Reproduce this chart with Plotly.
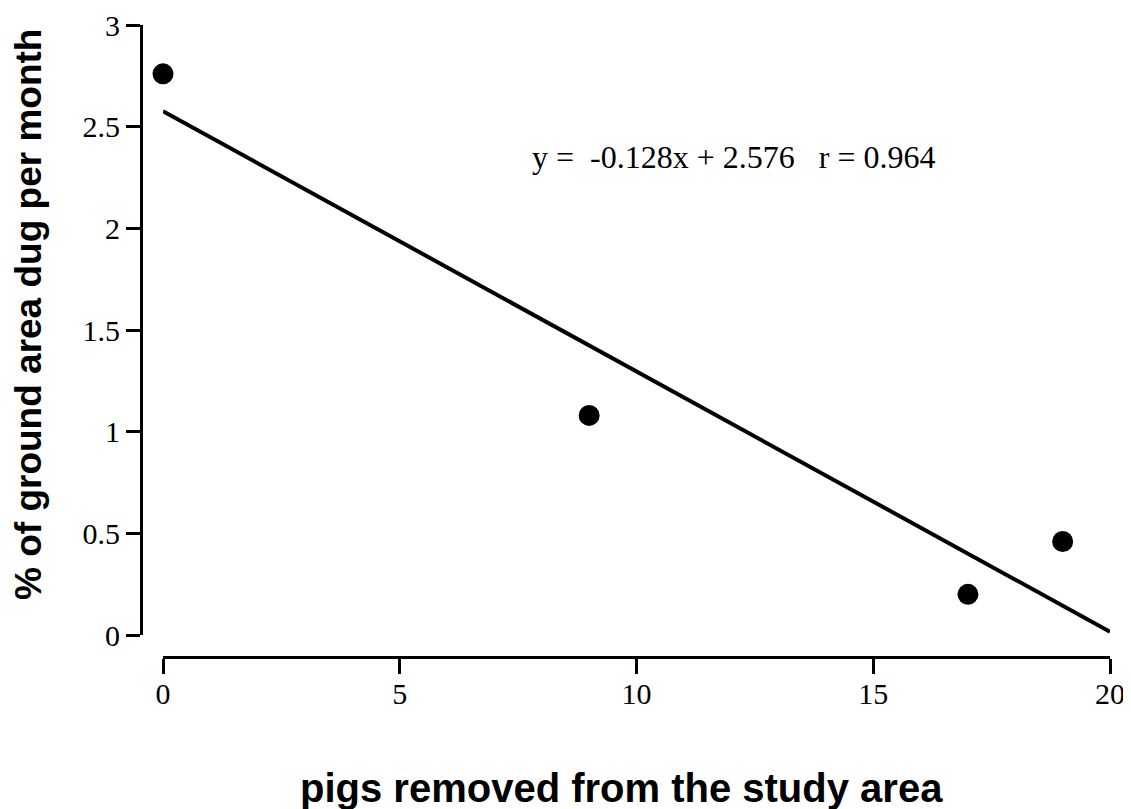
import plotly.graph_objects as go

# Data
pigs_removed = [0, 9, 17, 19]
pct_dug = [2.76, 1.08, 0.20, 0.46]
slope = -0.128
intercept = 2.576
fit_x = [0, 20]
fit_y = [slope * v + intercept for v in fit_x]
x_ticks = [0, 5, 10, 15, 20]
y_ticks = [0, 0.5, 1, 1.5, 2, 2.5, 3]
y_tick_text = ["0", "0.5", "1", "1.5", "2", "2.5", "3"]
equation_text = "y =\u00a0\u00a0-0.128x + 2.576\u00a0\u00a0\u00a0r = 0.964"
x_title = "pigs removed from the study area"
y_title = "% of ground area dug per month"

# page body has an 8px margin; compensate
OFF = 8
W, H = 1131 - OFF, 809 - OFF
ml, mr, mt = 92, 21, 25 - OFF
x_axis_y = 657 - OFF
mb = H - x_axis_y
pw = W - ml - mr
ph = H - mt - mb

x_plot_left = 163 - OFF
y_axis_x = 141 - OFF
y_plot_bottom = 635 - OFF

fig = go.Figure()
fig.add_trace(go.Scatter(x=fit_x, y=fit_y, mode="lines",
                         line=dict(color="black", width=4),
                         showlegend=False, cliponaxis=False))
fig.add_trace(go.Scatter(x=pigs_removed, y=pct_dug, mode="markers",
                         marker=dict(color="black", size=21),
                         showlegend=False, cliponaxis=False))

tick_font = dict(family="Liberation Serif, Times New Roman, serif", size=30, color="black")

fig.update_layout(
    width=W, height=H, autosize=False,
    margin=dict(l=ml, r=mr, t=mt, b=mb, pad=0),
    plot_bgcolor="white", paper_bgcolor="white",
    xaxis=dict(domain=[(x_plot_left - ml) / pw, 1], anchor="free", position=0,
               range=[0, 20], tickvals=x_ticks, ticks="outside", ticklen=15,
               tickwidth=3, tickcolor="black", showline=True, linewidth=3,
               linecolor="black", showgrid=False, zeroline=False,
               tickfont=tick_font, automargin=False, ticklabelstandoff=-6),
    yaxis=dict(domain=[(x_axis_y - y_plot_bottom) / ph, 1], anchor="free",
               position=(y_axis_x - ml) / pw,
               range=[0, 3], tickvals=y_ticks, ticktext=y_tick_text,
               ticks="outside", ticklen=14, tickwidth=3, tickcolor="black",
               showline=True, linewidth=3, linecolor="black", showgrid=False,
               zeroline=False, tickfont=tick_font, automargin=False),
    annotations=[
        dict(x=12.04, y=2.35, xref="x", yref="y", text=equation_text,
             showarrow=False, font=dict(family="Liberation Serif, Times New Roman, serif",
                                        size=32, color="black"),
             xanchor="center", yanchor="middle"),
        dict(x=(621 - OFF - ml) / pw, y=(x_axis_y - (788 - OFF)) / ph, xref="paper", yref="paper",
             text="<b>" + x_title + "</b>", showarrow=False,
             font=dict(family="Liberation Sans, Arial, sans-serif", size=40, color="black"),
             xanchor="center", yanchor="middle"),
        dict(x=(28 - OFF - ml) / pw, y=(x_axis_y - (315 - OFF)) / ph, xref="paper", yref="paper",
             text="<b>" + y_title + "</b>", showarrow=False,
             font=dict(family="Liberation Sans, Arial, sans-serif", size=37, color="black"),
             textangle=-90, xanchor="center", yanchor="middle"),
    ],
)

fig.write_html("out.html")
